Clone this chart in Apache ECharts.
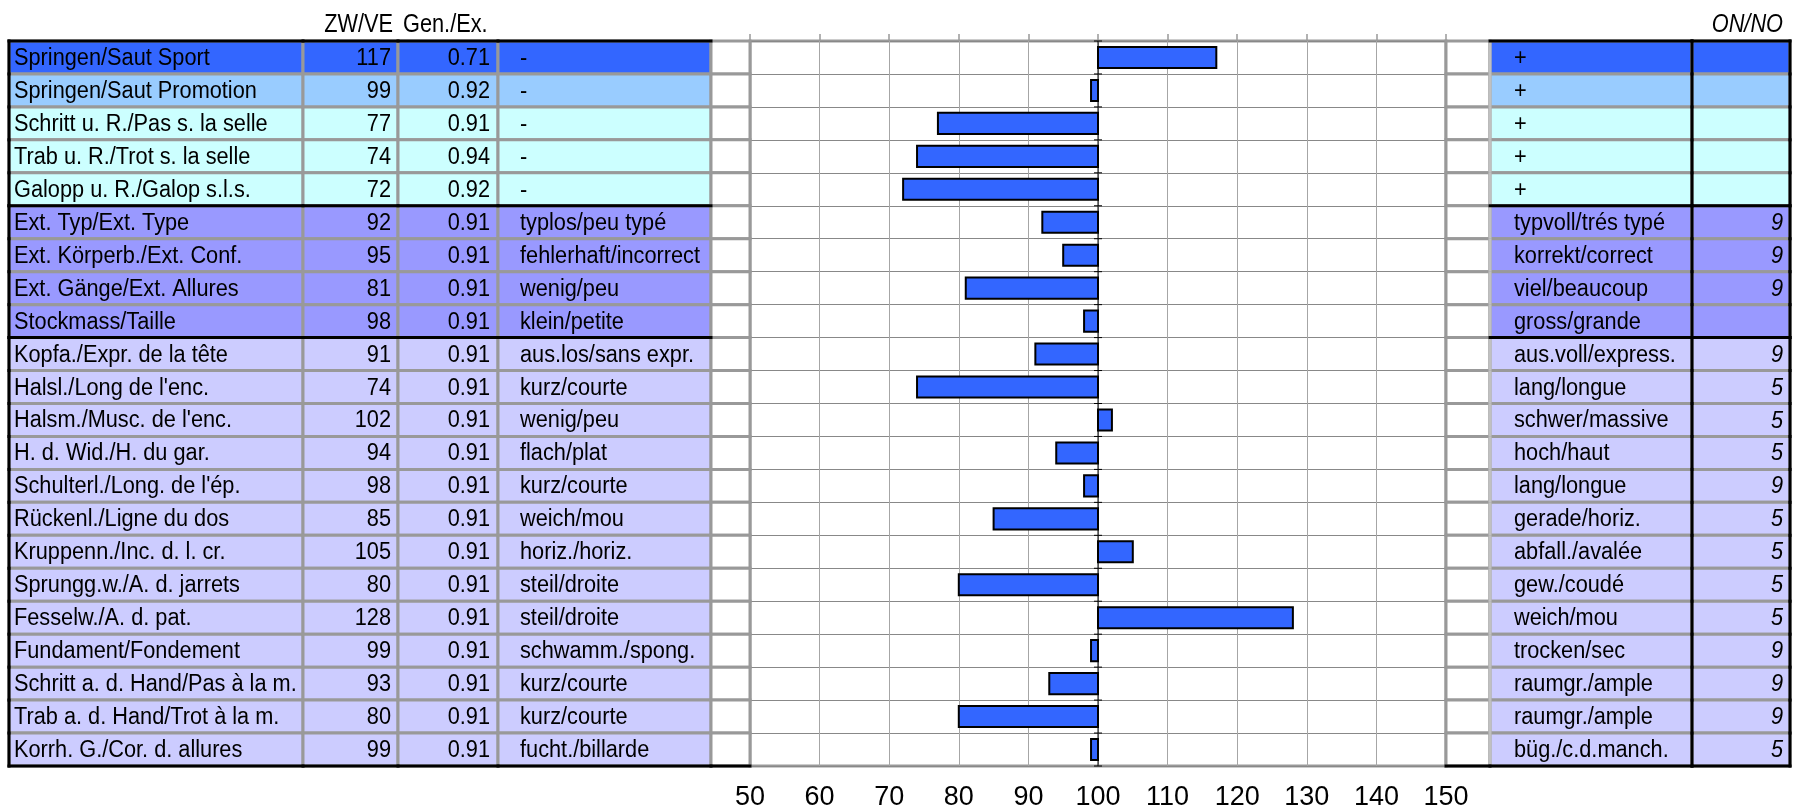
<!DOCTYPE html>
<html>
<head>
<meta charset="utf-8">
<script src="https://cdn.jsdelivr.net/npm/echarts@6/dist/echarts.min.js"></script>
<style>html,body{margin:0;padding:0;background:#fff}#c{width:1795px;height:810px}</style>
</head>
<body>
<div id="c"></div>
<script>
// ---------------- data ----------------
const traits = [
  'Springen/Saut Sport', 'Springen/Saut Promotion', 'Schritt u. R./Pas s. la selle',
  'Trab u. R./Trot s. la selle', 'Galopp u. R./Galop s.l.s.', 'Ext. Typ/Ext. Type',
  'Ext. Körperb./Ext. Conf.', 'Ext. Gänge/Ext. Allures', 'Stockmass/Taille',
  'Kopfa./Expr. de la tête', 'Halsl./Long de l\'enc.', 'Halsm./Musc. de l\'enc.',
  'H. d. Wid./H. du gar.', 'Schulterl./Long. de l\'ép.', 'Rückenl./Ligne du dos',
  'Kruppenn./Inc. d. l. cr.', 'Sprungg.w./A. d. jarrets', 'Fesselw./A. d. pat.',
  'Fundament/Fondement', 'Schritt a. d. Hand/Pas à la m.', 'Trab a. d. Hand/Trot à la m.',
  'Korrh. G./Cor. d. allures'
];
const zwve = [117, 99, 77, 74, 72, 92, 95, 81, 98, 91, 74, 102, 94, 98, 85, 105, 80, 128, 99, 93, 80, 99];
const genEx = ['0.71', '0.92', '0.91', '0.94', '0.92', '0.91', '0.91', '0.91', '0.91', '0.91', '0.91',
  '0.91', '0.91', '0.91', '0.91', '0.91', '0.91', '0.91', '0.91', '0.91', '0.91', '0.91'];
const lowPole = ['-', '-', '-', '-', '-', 'typlos/peu typé', 'fehlerhaft/incorrect', 'wenig/peu',
  'klein/petite', 'aus.los/sans expr.', 'kurz/courte', 'wenig/peu', 'flach/plat', 'kurz/courte',
  'weich/mou', 'horiz./horiz.', 'steil/droite', 'steil/droite', 'schwamm./spong.', 'kurz/courte',
  'kurz/courte', 'fucht./billarde'];
const highPole = ['+', '+', '+', '+', '+', 'typvoll/trés typé', 'korrekt/correct', 'viel/beaucoup',
  'gross/grande', 'aus.voll/express.', 'lang/longue', 'schwer/massive', 'hoch/haut', 'lang/longue',
  'gerade/horiz.', 'abfall./avalée', 'gew./coudé', 'weich/mou', 'trocken/sec', 'raumgr./ample',
  'raumgr./ample', 'büg./c.d.manch.'];
const onNo = ['', '', '', '', '', '9', '9', '9', '', '9', '5', '5', '5', '9', '5', '5', '5', '5', '9', '9', '9', '5'];
const rowKind = ['sport', 'promo', 'ridden', 'ridden', 'ridden', 'ext', 'ext', 'ext', 'ext',
  'lin', 'lin', 'lin', 'lin', 'lin', 'lin', 'lin', 'lin', 'lin', 'lin', 'lin', 'lin', 'lin'];
const section = [1, 1, 1, 1, 1, 2, 2, 2, 2, 3, 3, 3, 3, 3, 3, 3, 3, 3, 3, 3, 3, 3];
const xTicks = [50, 60, 70, 80, 90, 100, 110, 120, 130, 140, 150];
const baseValue = 100;

// ---------------- layout & style ----------------
const FONT = '"Liberation Sans", Arial, sans-serif';
const CELL_FONT = 23.5, CELL_SX = 0.925;
const HEAD_FONT = 25, HEAD_SX = 0.87;
const kindColor = { sport: '#3366FF', promo: '#99CCFF', ridden: '#CCFFFF', ext: '#9999FF', lin: '#CCCCFF' };
const TOP = 41, H = 725;
const cols = [
  { key: 'name', x: [9, 303] },
  { key: 'zw', x: [303, 398] },
  { key: 'gen', x: [398, 498] },
  { key: 'low', x: [498, 711] },
  { key: 'gap1', x: [711, 750] },
  { key: 'plot', x: [750, 1446] },
  { key: 'gap2', x: [1446, 1490] },
  { key: 'high', x: [1490, 1692] },
  { key: 'on', x: [1692, 1790] }
];
const PLOT = 5;

const grids = cols.map(c => ({
  left: c.x[0], top: TOP, width: c.x[1] - c.x[0], height: H,
  containLabel: false, outerBoundsMode: 'none',
  show: c.key === 'plot', borderColor: '#999', borderWidth: 3, backgroundColor: '#fff'
}));

const xAxes = [];
const yAxes = [];
cols.forEach((c, gi) => {
  if (gi === PLOT) {
    xAxes.push({
      gridIndex: gi, type: 'value', position: 'top',
      min: xTicks[0], max: xTicks[xTicks.length - 1], interval: xTicks[1] - xTicks[0],
      axisLine: { show: false }, axisLabel: { show: false },
      axisTick: { show: true, length: 7, lineStyle: { color: '#999', width: 1.5 } },
      splitLine: { show: true, lineStyle: { color: '#A6A6A6', width: 1 } }
    });
    xAxes.push({
      gridIndex: gi, type: 'value', position: 'bottom',
      min: xTicks[0], max: xTicks[xTicks.length - 1], interval: xTicks[1] - xTicks[0],
      axisLine: { show: false }, axisTick: { show: false }, splitLine: { show: false },
      axisLabel: { show: true, margin: 18, fontSize: 27, color: '#000', fontFamily: FONT,
        showMinLabel: true, showMaxLabel: true }
    });
    yAxes.push({
      gridIndex: gi, type: 'category', data: traits, inverse: true,
      axisLine: { show: false }, axisTick: { show: false }, axisLabel: { show: false },
      splitLine: { show: true, lineStyle: { color: '#888', width: 1 } }
    });
  } else {
    xAxes.push({ gridIndex: gi, type: 'value', min: 0, max: 1, show: false });
    yAxes.push({ gridIndex: gi, type: 'category', data: traits, inverse: true, show: false });
  }
});
const xIndexOfGrid = gi => (gi <= PLOT ? gi : gi + 1);

const colSpec = {
  name: { text: i => traits[i], align: 'left', pad: 5, black: { left: 1, top: 1, bottom: 1, section: 1 } },
  zw: { text: i => String(zwve[i]), align: 'right', pad: 7, black: { top: 1, bottom: 1, section: 1 } },
  gen: { text: i => genEx[i], align: 'right', pad: 8, black: { top: 1, bottom: 1, section: 1 } },
  low: { text: i => lowPole[i], align: 'left', pad: 22, black: { top: 1, bottom: 1, section: 1 } },
  gap1: { white: true, black: { bottom: 1 } },
  gap2: { white: true, black: { bottom: 1 } },
  high: { text: i => highPole[i], align: 'left', pad: 24, lightLeft: true, black: { top: 1, bottom: 1, section: 1 } },
  on: { text: i => onNo[i], align: 'right', pad: 7, italic: true, black: { left: 1, right: 1, top: 1, bottom: 1, section: 1 } }
};

function cellSeries(gi, spec) {
  return {
    type: 'custom', xAxisIndex: xIndexOfGrid(gi), yAxisIndex: gi, silent: true,
    data: traits.map((t, i) => [0, i]), encode: { x: 0, y: 1 },
    renderItem(params, api) {
      const i = api.value(1);
      const cs = params.coordSys;
      const c = api.coord([0, i]);
      const bh = api.size([0, 1])[1];
      const y0 = c[1] - bh / 2, y1 = c[1] + bh / 2;
      const x0 = cs.x, x1 = cs.x + cs.width;
      const kids = [{
        type: 'rect', shape: { x: x0, y: y0, width: cs.width, height: bh },
        style: { fill: spec.white ? '#fff' : kindColor[rowKind[i]], stroke: '#999', lineWidth: 3 }
      }];
      const txt = spec.text ? spec.text(i) : '';
      if (txt) {
        const tx = spec.align === 'right' ? x1 - spec.pad : x0 + spec.pad;
        kids.push({
          type: 'text', x: tx, y: c[1] + 1, scaleX: CELL_SX, z2: 60,
          style: { text: txt, align: spec.align, verticalAlign: 'middle', textAlign: spec.align,
            textVerticalAlign: 'middle', font: (spec.italic ? 'italic ' : '') + CELL_FONT + 'px ' + FONT, fill: '#000' }
        });
      }
      if (spec.lightLeft) {
        kids.push({ type: 'line', z2: 50, shape: { x1: x0, y1: y0, x2: x0, y2: y1 },
          style: { stroke: '#C0C0C0', lineWidth: 3 } });
      }
      const L = [];
      const b = spec.black;
      const last = traits.length - 1;
      if (b.top && i === 0) L.push([x0, y0, x1, y0]);
      if (b.bottom && i === last) L.push([x0, y1, x1, y1]);
      if (b.section && i < last && section[i] !== section[i + 1]) L.push([x0, y1, x1, y1]);
      if (b.left) L.push([x0, y0, x0, y1]);
      if (b.right) L.push([x1, y0, x1, y1]);
      L.forEach(l => kids.push({
        type: 'line', z2: 100, shape: { x1: l[0], y1: l[1], x2: l[2], y2: l[3] },
        style: { stroke: '#000', lineWidth: 3, lineCap: 'square' }
      }));
      return { type: 'group', children: kids };
    }
  };
}

const series = [];
cols.forEach((c, gi) => { if (gi !== PLOT) series.push(cellSeries(gi, colSpec[c.key])); });

series.push({
  type: 'custom', name: 'ZW/VE', xAxisIndex: PLOT, yAxisIndex: PLOT, silent: true, z: 5,
  data: zwve.map((v, i) => [v, i]), encode: { x: 0, y: 1 },
  renderItem(params, api) {
    const i = api.value(1);
    const a = api.coord([baseValue, i]);
    const b = api.coord([api.value(0), i]);
    const bh = api.size([0, 1])[1];
    const h = bh * 0.64;
    const kids = [
      { type: 'line', shape: { x1: a[0], y1: a[1] - bh / 2, x2: a[0], y2: a[1] + bh / 2 },
        style: { stroke: '#000', lineWidth: 1 } },
      { type: 'line', shape: { x1: a[0] - 4, y1: a[1] - bh / 2, x2: a[0] + 4, y2: a[1] - bh / 2 },
        style: { stroke: '#000', lineWidth: 1 } },
      { type: 'rect', shape: { x: Math.min(a[0], b[0]), y: a[1] - h / 2, width: Math.abs(b[0] - a[0]), height: h },
        style: { fill: '#3366FF', stroke: '#000', lineWidth: 2 } }
    ];
    if (i === traits.length - 1) {
      kids.push({ type: 'line', shape: { x1: a[0] - 4, y1: a[1] + bh / 2, x2: a[0] + 4, y2: a[1] + bh / 2 },
        style: { stroke: '#000', lineWidth: 1 } });
    }
    return { type: 'group', children: kids };
  }
});

const headerFont = HEAD_FONT + 'px ' + FONT;
const headStyle = (text, align, italic) => ({
  text: text, align: align, verticalAlign: 'middle', textAlign: align, textVerticalAlign: 'middle',
  font: (italic ? 'italic ' : '') + headerFont, fill: '#000'
});
const option = {
  animation: false,
  backgroundColor: '#fff',
  grid: grids,
  xAxis: xAxes,
  yAxis: yAxes,
  series: series,
  graphic: [
    { type: 'text', x: 393, y: 25, scaleX: HEAD_SX, style: headStyle('ZW/VE', 'right') },
    { type: 'text', x: 403, y: 25, scaleX: HEAD_SX, style: headStyle('Gen./Ex.', 'left') },
    { type: 'text', x: 1783, y: 25, scaleX: HEAD_SX, style: headStyle('ON/NO', 'right', true) }
  ]
};
const chart = echarts.init(document.getElementById('c'), null, { renderer: 'canvas' });
chart.setOption(option);
</script>
</body>
</html>
